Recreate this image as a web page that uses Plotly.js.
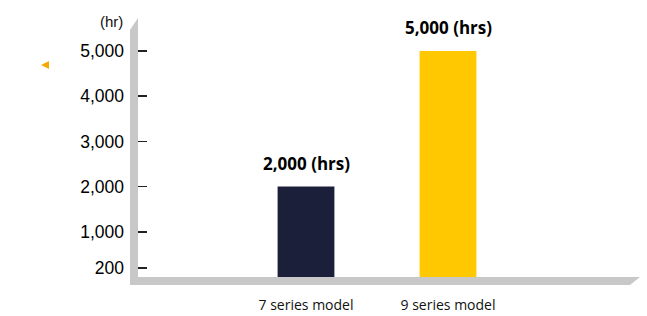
<!DOCTYPE html>
<html><head><meta charset="utf-8">
<script src="https://cdn.plot.ly/plotly-3.0.1.min.js"></script>
<style>html,body{margin:0;padding:0;background:#fff;}#chart{width:647px;height:316px;}</style>
</head><body><div id="chart"></div>
<script>
const categories = ['7 series model', '9 series model'];
const hours = [2000, 5000];
const barLabels = ['2,000 (hrs)', '5,000 (hrs)'];
const barColors = ['#1b1f3a', '#ffc800'];
const yTickVals = [200, 1000, 2000, 3000, 4000, 5000];
const yTickText = ['200', '1,000', '2,000', '3,000', '4,000', '5,000'];
const yUnit = '(hr)';

const trace = {
  type: 'bar', x: categories, y: hours, width: 0.4,
  marker: {color: barColors, line: {width: 0}},
  hoverinfo: 'x+y'
};
const annotations = categories.map((c, i) => ({
  x: c, y: hours[i], xref: 'x', yref: 'y', text: barLabels[i], showarrow: false,
  yanchor: 'bottom', yshift: 10,
  font: {family: '"Open Sans", "Noto Sans", sans-serif', size: 17, color: '#000', weight: 'bold'}
}));
annotations.push({
  x: -0.0259, y: 0.985, xref: 'paper', yref: 'paper', text: yUnit, showarrow: false,
  xanchor: 'right', yanchor: 'middle',
  font: {family: '"Liberation Sans Narrow", "Liberation Sans", Arial, sans-serif', size: 15, color: '#111'}
});
const layout = {
  width: 647, height: 316,
  margin: {l: 138, r: 7, t: 18, b: 39},
  paper_bgcolor: '#fff', plot_bgcolor: 'rgba(0,0,0,0)',
  showlegend: false,
  xaxis: {
    type: 'category', range: [-1.183, 2.352], showgrid: false, zeroline: false, showline: false,
    ticks: '', ticklabelstandoff: 18,
    tickfont: {family: '"Open Sans", "Noto Sans", sans-serif', size: 14, color: '#111'}
  },
  yaxis: {
    range: [0, 5730], showgrid: false, zeroline: false, showline: false,
    tickmode: 'array', tickvals: yTickVals, ticktext: yTickText,
    ticks: 'inside', ticklen: 9, tickwidth: 1.5, tickcolor: '#222',
    ticklabelstandoff: 13,
    tickfont: {family: '"Liberation Sans Narrow", "Liberation Sans", Arial, sans-serif', size: 17.5, color: '#000'}
  },
  shapes: [
    {type: 'path', xref: 'paper', yref: 'paper', layer: 'below', line: {width: 0}, fillcolor: '#c8c8c8',
     path: 'M -0.01594 0.9537 L 0 1 L 0 0 L 1 0 L 0.98008 -0.03089 L -0.01594 -0.03089 Z'},
    {type: 'path', xref: 'paper', yref: 'paper', line: {width: 0}, fillcolor: '#f5a800',
     path: 'M -0.1932 0.8185 L -0.1773 0.834 L -0.1773 0.8031 Z'}
  ],
  annotations: annotations
};
Plotly.newPlot('chart', [trace], layout, {displayModeBar: false, staticPlot: true});
</script></body></html>
